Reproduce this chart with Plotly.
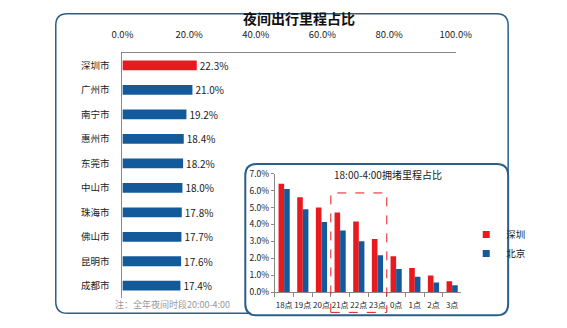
import plotly.graph_objects as go

# ---- data ----
cities = ["深圳市", "广州市", "南宁市", "惠州市", "东莞市", "中山市", "珠海市", "佛山市", "昆明市", "成都市"]
night_share = [0.223, 0.210, 0.192, 0.184, 0.182, 0.180, 0.178, 0.177, 0.176, 0.174]
highlight_city = "深圳市"

hours = ["18点", "19点", "20点", "21点", "22点", "23点", "0点", "1点", "2点", "3点"]
shenzhen = [0.064, 0.056, 0.050, 0.047, 0.0417, 0.0314, 0.0212, 0.0143, 0.0098, 0.0064]
beijing = [0.061, 0.049, 0.0415, 0.0365, 0.0301, 0.0218, 0.0137, 0.0091, 0.0057, 0.0041]
x_ticks = [0, 0.2, 0.4, 0.6, 0.8, 1.0]
y2_ticks = [0, 0.01, 0.02, 0.03, 0.04, 0.05, 0.06, 0.07]

RED = "#E81A1F"
BLUE = "#135A9A"
FRAME = "#2A5F88"
FONT = "Noto Sans CJK SC"
W, H = 567, 328


def px(x):
    return x / W


def py(y):
    return 1 - y / H


def rrect(x0, y0, x1, y1, r):
    rx, ry = r / W, r / H
    X0, X1, Y0, Y1 = px(x0), px(x1), py(y0), py(y1)
    return (f"M{X0 + rx},{Y0} L{X1 - rx},{Y0} Q{X1},{Y0} {X1},{Y0 - ry} "
            f"L{X1},{Y1 + ry} Q{X1},{Y1} {X1 - rx},{Y1} L{X0 + rx},{Y1} "
            f"Q{X0},{Y1} {X0},{Y1 + ry} L{X0},{Y0 - ry} Q{X0},{Y0} {X0 + rx},{Y0} Z")


fig = go.Figure()

main_colors = [RED if c == highlight_city else BLUE for c in cities]
fig.add_trace(go.Bar(
    y=cities, x=night_share, orientation="h", width=0.4,
    marker=dict(color=main_colors, line=dict(width=0)),
    text=[f"{v*100:.1f}%" for v in night_share], textposition="outside",
    constraintext="none",
    textfont=dict(size=10, color="#222"), cliponaxis=False,
    xaxis="x", yaxis="y", showlegend=False,
))

fig.add_trace(go.Bar(x=hours, y=shenzhen, name="深圳", marker=dict(color=RED, line=dict(width=0)),
                     xaxis="x2", yaxis="y2", showlegend=False))
fig.add_trace(go.Bar(x=hours, y=beijing, name="北京", marker=dict(color=BLUE, line=dict(width=0)),
                     xaxis="x2", yaxis="y2", showlegend=False))
# legend entries (small square swatches like the original)
for nm, col in (("深圳", RED), ("北京", BLUE)):
    fig.add_trace(go.Scatter(x=[None], y=[None], mode="markers", name=nm,
                             marker=dict(symbol="square", size=7, color=col),
                             xaxis="x2", yaxis="y2"))

fig.update_layout(
    width=W, height=H, margin=dict(l=0, r=0, t=0, b=0),
    paper_bgcolor="white", plot_bgcolor="rgba(0,0,0,0)",
    font=dict(family=FONT, color="#222", size=10),
    barmode="group", bargap=0.4, bargroupgap=0,
    xaxis=dict(domain=[px(117), px(467)], range=[0, 1], side="top", anchor="y",
               tickvals=x_ticks, tickformat=".1%", showgrid=False, zeroline=False,
               showline=True, linecolor="#888", linewidth=1, ticks="", ticklabelstandoff=10,
               tickfont=dict(size=9.5, color="#222")),
    yaxis=dict(domain=[py(302), py(48)], autorange="reversed", anchor="x",
               showline=True, linecolor="#888", linewidth=1, showgrid=False,
               ticks="", ticklabelstandoff=10, tickfont=dict(size=9.5, color="#222")),
    xaxis2=dict(domain=[px(277), px(473)], anchor="y2", showline=True, linecolor="#888",
                ticks="outside", tickson="boundaries", ticklen=4, tickcolor="#888",
                ticklabelstandoff=5,
                tickangle=0, showgrid=False, tickfont=dict(size=8, color="#222")),
    yaxis2=dict(domain=[py(296), py(173)], range=[0, 0.07], anchor="x2",
                tickvals=y2_ticks, tickformat=".1%", showline=True, linecolor="#888",
                ticks="outside", ticklen=3, tickcolor="#888", showgrid=False, zeroline=False,
                tickfont=dict(size=8.5, color="#222")),
    legend=dict(x=px(478), y=py(221), xanchor="left", yanchor="top",
                font=dict(size=9.5, color="#222"), bgcolor="rgba(0,0,0,0)",
                itemwidth=30, tracegroupgap=0),
    shapes=[
        dict(type="path", xref="paper", yref="paper", path=rrect(47, 7, 522, 318, 12),
             line=dict(color=FRAME, width=1.5), fillcolor="rgba(0,0,0,0)", layer="below"),
        dict(type="path", xref="paper", yref="paper", path=rrect(246, 163, 522, 320, 12),
             line=dict(color=FRAME, width=2), fillcolor="white", layer="below"),
        dict(type="rect", xref="x2", yref="paper", x0=2.5, x1=5.5, y0=py(317), y1=py(193),
             line=dict(color=RED, width=1, dash="dash"), fillcolor="rgba(0,0,0,0)"),
    ],
    annotations=[
        dict(text="<b>夜间出行里程占比</b>", x=px(302), y=py(11), xref="paper", yref="paper",
             showarrow=False, font=dict(size=14, color="#111"), xanchor="center", yanchor="middle"),
        dict(text="18:00-4:00拥堵里程占比", x=px(396), y=py(174), xref="paper", yref="paper",
             showarrow=False, font=dict(size=10, color="#222"), xanchor="center", yanchor="middle"),
        dict(text="注：全年夜间时段20:00-4:00", x=px(170), y=py(309), xref="paper", yref="paper",
             showarrow=False, font=dict(size=9, color="#999"), xanchor="center", yanchor="middle"),
    ],
)

fig.write_html("out.html")
